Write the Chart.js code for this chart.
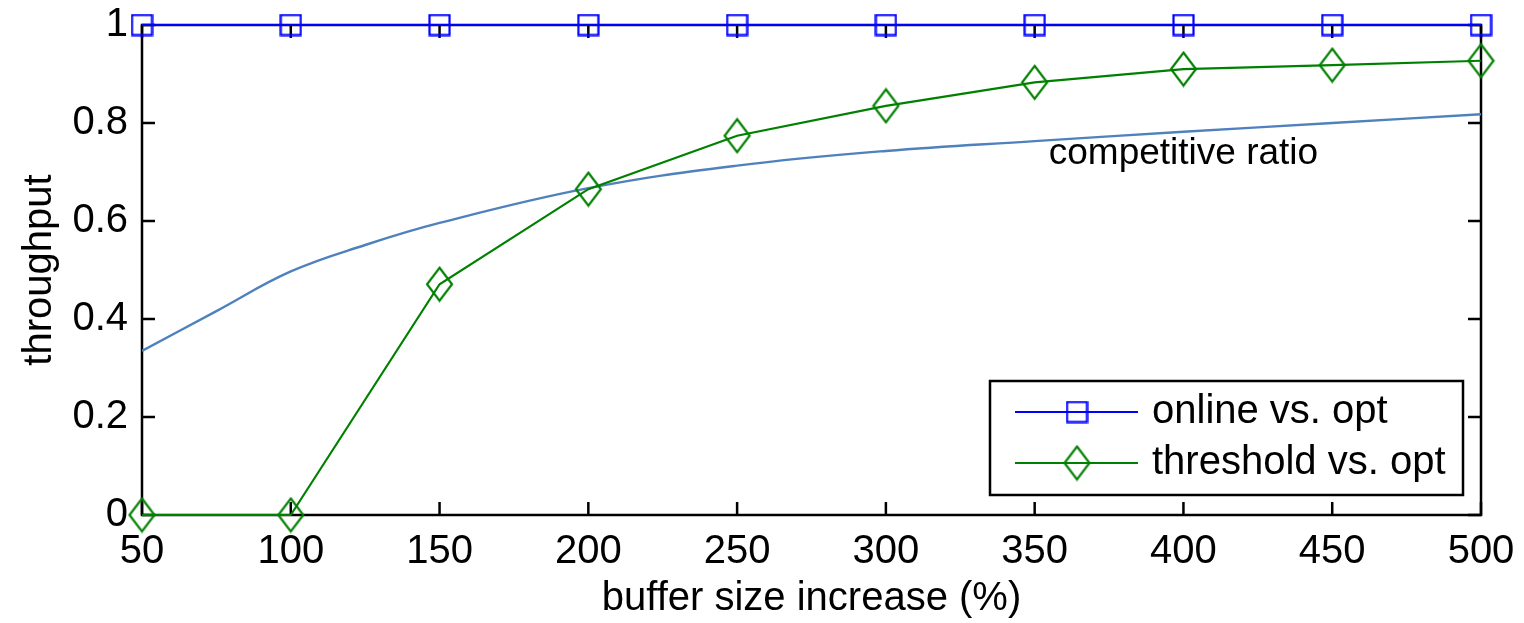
<!DOCTYPE html>
<html>
<head>
<meta charset="utf-8">
<style>
  html, body { margin: 0; padding: 0; background: #fff; }
  canvas { display: block; }
</style>
<script src="https://cdn.jsdelivr.net/npm/chart.js@4"></script>
</head>
<body>
<canvas id="chart" width="1524" height="623"></canvas>
<script>
// data
const bufferIncrease = [50, 100, 150, 200, 250, 300, 350, 400, 450, 500];
const onlineVsOpt = [1, 1, 1, 1, 1, 1, 1, 1, 1, 1];
const thresholdVsOpt = [0, 0, 0.471, 0.665, 0.774, 0.835, 0.883, 0.910, 0.918, 0.927];
const ratioX = [50, 75, 100, 125, 150, 200, 250, 300, 350, 400, 450, 500];
const competitiveRatio = [0.335, 0.416, 0.497, 0.551, 0.596, 0.667, 0.713, 0.743, 0.763, 0.782, 0.800, 0.818];
const xTicks = [50, 100, 150, 200, 250, 300, 350, 400, 450, 500];
const yTicks = [0, 0.2, 0.4, 0.6, 0.8, 1];

const FONT = '"Liberation Sans", Arial, Helvetica, sans-serif';
Chart.defaults.font.family = FONT;
Chart.defaults.color = '#000';

// matlab style markers (hollow square, tall diamond)
function squareMarker(color) {
  const c = document.createElement('canvas');
  c.width = 23; c.height = 23;
  const g = c.getContext('2d');
  g.strokeStyle = color; g.lineWidth = 2.2;
  g.strokeRect(1.5, 1.5, 20, 20);
  return c;
}
function diamondMarker(color) {
  const c = document.createElement('canvas');
  c.width = 29; c.height = 37;
  const g = c.getContext('2d');
  g.strokeStyle = color; g.lineWidth = 2.2;
  g.beginPath();
  g.moveTo(14.5, 2); g.lineTo(27, 18.5); g.lineTo(14.5, 35); g.lineTo(2, 18.5);
  g.closePath(); g.stroke();
  return c;
}
const sq = squareMarker('#0000ff');
const dm = diamondMarker('#008000');

const toXY = (xs, ys) => xs.map((x, i) => ({ x: x, y: ys[i] }));

const boxTicks = {
  id: 'boxTicks',
  beforeDatasetsDraw(chart) {
    const { ctx, chartArea: a, scales: { x, y } } = chart;
    const len = 13;
    ctx.save();
    ctx.strokeStyle = '#000';
    ctx.lineWidth = 2.5;
    ctx.strokeRect(a.left, a.top, a.right - a.left, a.bottom - a.top);
    ctx.beginPath();
    x.ticks.forEach(t => {
      const px = x.getPixelForValue(t.value);
      ctx.moveTo(px, a.bottom); ctx.lineTo(px, a.bottom - len);
      ctx.moveTo(px, a.top); ctx.lineTo(px, a.top + len);
    });
    y.ticks.forEach(t => {
      const py = y.getPixelForValue(t.value);
      ctx.moveTo(a.left, py); ctx.lineTo(a.left + len, py);
      ctx.moveTo(a.right, py); ctx.lineTo(a.right - len, py);
    });
    ctx.stroke();
    ctx.restore();
  },
  afterDraw(chart) {
    const { ctx, scales: { x, y } } = chart;
    ctx.save();
    // curve label
    ctx.font = '37px ' + FONT;
    ctx.fillStyle = '#000';
    ctx.textAlign = 'center';
    ctx.textBaseline = 'alphabetic';
    ctx.fillText('competitive ratio', x.getPixelForValue(400), y.getPixelForValue(0.716));

    // legend box
    ctx.fillStyle = '#fff';
    ctx.fillRect(990, 381, 473, 114);
    ctx.strokeStyle = '#000';
    ctx.lineWidth = 2.5;
    ctx.strokeRect(990, 381, 473, 114);
    const rows = [chart.data.datasets[0], chart.data.datasets[1]];
    rows.forEach((ds, i) => {
      const cy = 412 + i * 51;
      ctx.strokeStyle = ds.borderColor;
      ctx.lineWidth = 2.2;
      ctx.beginPath(); ctx.moveTo(1015, cy); ctx.lineTo(1138, cy); ctx.stroke();
      const m = ds.pointStyle;
      ctx.drawImage(m, 1077 - m.width / 2, cy - m.height / 2);
      ctx.fillStyle = '#000';
      ctx.font = '40px ' + FONT;
      ctx.textAlign = 'left';
      ctx.textBaseline = 'middle';
      ctx.fillText(ds.label, 1152, cy);
    });
    ctx.restore();
  }
};

const noPad = s => { s.paddingTop = 0; s.paddingBottom = 0; s.paddingLeft = 0; s.paddingRight = 0; };

new Chart(document.getElementById('chart'), {
  type: 'line',
  data: {
    datasets: [
      {
        label: 'online vs. opt',
        data: toXY(bufferIncrease, onlineVsOpt),
        borderColor: '#0000ff',
        borderWidth: 2.2,
        pointStyle: sq,
        pointRadius: 11,
        fill: false,
        clip: false,
        order: 0
      },
      {
        label: 'threshold vs. opt',
        data: toXY(bufferIncrease, thresholdVsOpt),
        borderColor: '#008000',
        borderWidth: 2.2,
        pointStyle: dm,
        pointRadius: 15,
        fill: false,
        clip: false,
        order: 1
      },
      {
        label: 'competitive ratio',
        data: toXY(ratioX, competitiveRatio),
        borderColor: '#4f81bd',
        borderWidth: 2.4,
        pointRadius: 0,
        tension: 0.4,
        fill: false,
        order: 2
      }
    ]
  },
  options: {
    responsive: false,
    devicePixelRatio: 1,
    animation: false,
    layout: { padding: { top: 25, right: 43, left: 0, bottom: 0 } },
    plugins: { legend: { display: false }, tooltip: { enabled: false } },
    scales: {
      x: {
        type: 'linear',
        min: 50, max: 500,
        afterBuildTicks: s => { s.ticks = xTicks.map(v => ({ value: v })); },
        afterFit: s => { s.height = 108; noPad(s); },
        grid: { display: false, drawTicks: false },
        border: { display: false },
        ticks: { font: { size: 40 }, color: '#000', padding: 13, maxRotation: 0, autoSkip: false },
        title: { display: true, text: 'buffer size increase (%)', font: { size: 40 }, color: '#000', padding: { top: 0, bottom: 0 } }
      },
      y: {
        min: 0, max: 1,
        afterBuildTicks: s => { s.ticks = yTicks.map(v => ({ value: v })); },
        afterFit: s => { s.width = 142; noPad(s); },
        grid: { display: false, drawTicks: false },
        border: { display: false },
        ticks: { font: { size: 40 }, color: '#000', padding: 14, callback: v => String(v) },
        title: { display: true, text: 'throughput', font: { size: 40 }, color: '#000', padding: { top: 16, bottom: 0 } }
      }
    }
  },
  plugins: [boxTicks]
});
</script>
</body>
</html>
